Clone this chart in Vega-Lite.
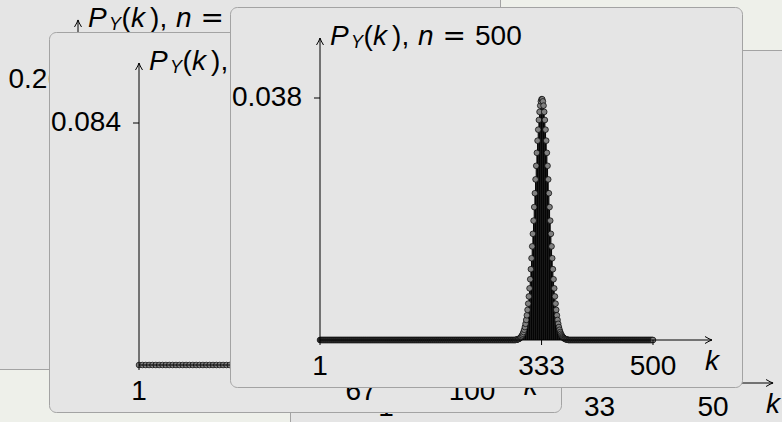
{
"$schema": "https://vega.github.io/schema/vega-lite/v6.json",
"width": 782, "height": 422, "padding": 0, "autosize": {"type": "none"},
"background": "#eef0ea",
"config": {"view": {"stroke": null}, "axis": {"disable": true}, "text": {"font": "Liberation Sans", "fontSize": 28, "color": "#000"}},
"datasets": {
"p10": [{"k":1,"p":0.00034},{"k":2,"p":0.00305},{"k":3,"p":0.01626},{"k":4,"p":0.0569},{"k":5,"p":0.13656},{"k":6,"p":0.22761},{"k":7,"p":0.26012},{"k":8,"p":0.19509},{"k":9,"p":0.08671},{"k":10,"p":0.01734}],
"p50": [{"k":1,"p":0},{"k":2,"p":0},{"k":3,"p":0},{"k":4,"p":0},{"k":5,"p":0},{"k":6,"p":0},{"k":7,"p":0},{"k":8,"p":0},{"k":9,"p":0},{"k":10,"p":0},{"k":11,"p":0},{"k":12,"p":0},{"k":13,"p":0},{"k":14,"p":0},{"k":15,"p":0},{"k":16,"p":0},{"k":17,"p":0},{"k":18,"p":0},{"k":19,"p":0},{"k":20,"p":0},{"k":21,"p":0.0001},{"k":22,"p":0.0003},{"k":23,"p":0.0008},{"k":24,"p":0.0021},{"k":25,"p":0.0046},{"k":26,"p":0.0095},{"k":27,"p":0.0179},{"k":28,"p":0.0307},{"k":29,"p":0.0481},{"k":30,"p":0.069},{"k":31,"p":0.0903},{"k":32,"p":0.1082},{"k":33,"p":0.1184},{"k":34,"p":0.1184},{"k":35,"p":0.1082},{"k":36,"p":0.0903},{"k":37,"p":0.069},{"k":38,"p":0.0481},{"k":39,"p":0.0307},{"k":40,"p":0.0179},{"k":41,"p":0.0095},{"k":42,"p":0.0046},{"k":43,"p":0.0021},{"k":44,"p":0.0008},{"k":45,"p":0.0003},{"k":46,"p":0.0001},{"k":47,"p":0},{"k":48,"p":0},{"k":49,"p":0},{"k":50,"p":0}],
"p100": [{"k":1,"p":0},{"k":2,"p":0},{"k":3,"p":0},{"k":4,"p":0},{"k":5,"p":0},{"k":6,"p":0},{"k":7,"p":0},{"k":8,"p":0},{"k":9,"p":0},{"k":10,"p":0},{"k":11,"p":0},{"k":12,"p":0},{"k":13,"p":0},{"k":14,"p":0},{"k":15,"p":0},{"k":16,"p":0},{"k":17,"p":0},{"k":18,"p":0},{"k":19,"p":0},{"k":20,"p":0},{"k":21,"p":0},{"k":22,"p":0},{"k":23,"p":0},{"k":24,"p":0},{"k":25,"p":0},{"k":26,"p":0},{"k":27,"p":0},{"k":28,"p":0},{"k":29,"p":0},{"k":30,"p":0},{"k":31,"p":0},{"k":32,"p":0},{"k":33,"p":0},{"k":34,"p":0},{"k":35,"p":0},{"k":36,"p":0},{"k":37,"p":0},{"k":38,"p":0},{"k":39,"p":0},{"k":40,"p":0},{"k":41,"p":0},{"k":42,"p":0},{"k":43,"p":0},{"k":44,"p":0},{"k":45,"p":0},{"k":46,"p":0},{"k":47,"p":0},{"k":48,"p":0},{"k":49,"p":0.0001},{"k":50,"p":0.0002},{"k":51,"p":0.0003},{"k":52,"p":0.0007},{"k":53,"p":0.0013},{"k":54,"p":0.0023},{"k":55,"p":0.004},{"k":56,"p":0.0065},{"k":57,"p":0.0103},{"k":58,"p":0.0156},{"k":59,"p":0.0226},{"k":60,"p":0.0311},{"k":61,"p":0.0411},{"k":62,"p":0.0518},{"k":63,"p":0.0625},{"k":64,"p":0.0721},{"k":65,"p":0.0795},{"k":66,"p":0.0838},{"k":67,"p":0.0844},{"k":68,"p":0.0813},{"k":69,"p":0.0749},{"k":70,"p":0.0659},{"k":71,"p":0.0555},{"k":72,"p":0.0446},{"k":73,"p":0.0343},{"k":74,"p":0.0252},{"k":75,"p":0.0177},{"k":76,"p":0.0119},{"k":77,"p":0.0077},{"k":78,"p":0.0047},{"k":79,"p":0.0028},{"k":80,"p":0.0015},{"k":81,"p":0.0008},{"k":82,"p":0.0004},{"k":83,"p":0.0002},{"k":84,"p":0.0001},{"k":85,"p":0},{"k":86,"p":0},{"k":87,"p":0},{"k":88,"p":0},{"k":89,"p":0},{"k":90,"p":0},{"k":91,"p":0},{"k":92,"p":0},{"k":93,"p":0},{"k":94,"p":0},{"k":95,"p":0},{"k":96,"p":0},{"k":97,"p":0},{"k":98,"p":0},{"k":99,"p":0},{"k":100,"p":0}],
"p500": [{"k":1,"p":0},{"k":2,"p":0},{"k":3,"p":0},{"k":4,"p":0},{"k":5,"p":0},{"k":6,"p":0},{"k":7,"p":0},{"k":8,"p":0},{"k":9,"p":0},{"k":10,"p":0},
{"k":11,"p":0},{"k":12,"p":0},{"k":13,"p":0},{"k":14,"p":0},{"k":15,"p":0},{"k":16,"p":0},{"k":17,"p":0},{"k":18,"p":0},{"k":19,"p":0},{"k":20,"p":0},
{"k":21,"p":0},{"k":22,"p":0},{"k":23,"p":0},{"k":24,"p":0},{"k":25,"p":0},{"k":26,"p":0},{"k":27,"p":0},{"k":28,"p":0},{"k":29,"p":0},{"k":30,"p":0},
{"k":31,"p":0},{"k":32,"p":0},{"k":33,"p":0},{"k":34,"p":0},{"k":35,"p":0},{"k":36,"p":0},{"k":37,"p":0},{"k":38,"p":0},{"k":39,"p":0},{"k":40,"p":0},
{"k":41,"p":0},{"k":42,"p":0},{"k":43,"p":0},{"k":44,"p":0},{"k":45,"p":0},{"k":46,"p":0},{"k":47,"p":0},{"k":48,"p":0},{"k":49,"p":0},{"k":50,"p":0},
{"k":51,"p":0},{"k":52,"p":0},{"k":53,"p":0},{"k":54,"p":0},{"k":55,"p":0},{"k":56,"p":0},{"k":57,"p":0},{"k":58,"p":0},{"k":59,"p":0},{"k":60,"p":0},
{"k":61,"p":0},{"k":62,"p":0},{"k":63,"p":0},{"k":64,"p":0},{"k":65,"p":0},{"k":66,"p":0},{"k":67,"p":0},{"k":68,"p":0},{"k":69,"p":0},{"k":70,"p":0},
{"k":71,"p":0},{"k":72,"p":0},{"k":73,"p":0},{"k":74,"p":0},{"k":75,"p":0},{"k":76,"p":0},{"k":77,"p":0},{"k":78,"p":0},{"k":79,"p":0},{"k":80,"p":0},
{"k":81,"p":0},{"k":82,"p":0},{"k":83,"p":0},{"k":84,"p":0},{"k":85,"p":0},{"k":86,"p":0},{"k":87,"p":0},{"k":88,"p":0},{"k":89,"p":0},{"k":90,"p":0},
{"k":91,"p":0},{"k":92,"p":0},{"k":93,"p":0},{"k":94,"p":0},{"k":95,"p":0},{"k":96,"p":0},{"k":97,"p":0},{"k":98,"p":0},{"k":99,"p":0},{"k":100,"p":0},
{"k":101,"p":0},{"k":102,"p":0},{"k":103,"p":0},{"k":104,"p":0},{"k":105,"p":0},{"k":106,"p":0},{"k":107,"p":0},{"k":108,"p":0},{"k":109,"p":0},{"k":110,"p":0},
{"k":111,"p":0},{"k":112,"p":0},{"k":113,"p":0},{"k":114,"p":0},{"k":115,"p":0},{"k":116,"p":0},{"k":117,"p":0},{"k":118,"p":0},{"k":119,"p":0},{"k":120,"p":0},
{"k":121,"p":0},{"k":122,"p":0},{"k":123,"p":0},{"k":124,"p":0},{"k":125,"p":0},{"k":126,"p":0},{"k":127,"p":0},{"k":128,"p":0},{"k":129,"p":0},{"k":130,"p":0},
{"k":131,"p":0},{"k":132,"p":0},{"k":133,"p":0},{"k":134,"p":0},{"k":135,"p":0},{"k":136,"p":0},{"k":137,"p":0},{"k":138,"p":0},{"k":139,"p":0},{"k":140,"p":0},
{"k":141,"p":0},{"k":142,"p":0},{"k":143,"p":0},{"k":144,"p":0},{"k":145,"p":0},{"k":146,"p":0},{"k":147,"p":0},{"k":148,"p":0},{"k":149,"p":0},{"k":150,"p":0},
{"k":151,"p":0},{"k":152,"p":0},{"k":153,"p":0},{"k":154,"p":0},{"k":155,"p":0},{"k":156,"p":0},{"k":157,"p":0},{"k":158,"p":0},{"k":159,"p":0},{"k":160,"p":0},
{"k":161,"p":0},{"k":162,"p":0},{"k":163,"p":0},{"k":164,"p":0},{"k":165,"p":0},{"k":166,"p":0},{"k":167,"p":0},{"k":168,"p":0},{"k":169,"p":0},{"k":170,"p":0},
{"k":171,"p":0},{"k":172,"p":0},{"k":173,"p":0},{"k":174,"p":0},{"k":175,"p":0},{"k":176,"p":0},{"k":177,"p":0},{"k":178,"p":0},{"k":179,"p":0},{"k":180,"p":0},
{"k":181,"p":0},{"k":182,"p":0},{"k":183,"p":0},{"k":184,"p":0},{"k":185,"p":0},{"k":186,"p":0},{"k":187,"p":0},{"k":188,"p":0},{"k":189,"p":0},{"k":190,"p":0},
{"k":191,"p":0},{"k":192,"p":0},{"k":193,"p":0},{"k":194,"p":0},{"k":195,"p":0},{"k":196,"p":0},{"k":197,"p":0},{"k":198,"p":0},{"k":199,"p":0},{"k":200,"p":0},
{"k":201,"p":0},{"k":202,"p":0},{"k":203,"p":0},{"k":204,"p":0},{"k":205,"p":0},{"k":206,"p":0},{"k":207,"p":0},{"k":208,"p":0},{"k":209,"p":0},{"k":210,"p":0},
{"k":211,"p":0},{"k":212,"p":0},{"k":213,"p":0},{"k":214,"p":0},{"k":215,"p":0},{"k":216,"p":0},{"k":217,"p":0},{"k":218,"p":0},{"k":219,"p":0},{"k":220,"p":0},
{"k":221,"p":0},{"k":222,"p":0},{"k":223,"p":0},{"k":224,"p":0},{"k":225,"p":0},{"k":226,"p":0},{"k":227,"p":0},{"k":228,"p":0},{"k":229,"p":0},{"k":230,"p":0},
{"k":231,"p":0},{"k":232,"p":0},{"k":233,"p":0},{"k":234,"p":0},{"k":235,"p":0},{"k":236,"p":0},{"k":237,"p":0},{"k":238,"p":0},{"k":239,"p":0},{"k":240,"p":0},
{"k":241,"p":0},{"k":242,"p":0},{"k":243,"p":0},{"k":244,"p":0},{"k":245,"p":0},{"k":246,"p":0},{"k":247,"p":0},{"k":248,"p":0},{"k":249,"p":0},{"k":250,"p":0},
{"k":251,"p":0},{"k":252,"p":0},{"k":253,"p":0},{"k":254,"p":0},{"k":255,"p":0},{"k":256,"p":0},{"k":257,"p":0},{"k":258,"p":0},{"k":259,"p":0},{"k":260,"p":0},
{"k":261,"p":0},{"k":262,"p":0},{"k":263,"p":0},{"k":264,"p":0},{"k":265,"p":0},{"k":266,"p":0},{"k":267,"p":0},{"k":268,"p":0},{"k":269,"p":0},{"k":270,"p":0},
{"k":271,"p":0},{"k":272,"p":0},{"k":273,"p":0},{"k":274,"p":0},{"k":275,"p":0},{"k":276,"p":0},{"k":277,"p":0},{"k":278,"p":0},{"k":279,"p":0},{"k":280,"p":0},
{"k":281,"p":0},{"k":282,"p":0},{"k":283,"p":0},{"k":284,"p":0},{"k":285,"p":0},{"k":286,"p":0},{"k":287,"p":0},{"k":288,"p":0},{"k":289,"p":0},{"k":290,"p":0},
{"k":291,"p":0},{"k":292,"p":0},{"k":293,"p":0},{"k":294,"p":0},{"k":295,"p":0.00005},{"k":296,"p":0.00007},{"k":297,"p":0.00009},{"k":298,"p":0.00013},{"k":299,"p":0.00018},{"k":300,"p":0.00024},
{"k":301,"p":0.00033},{"k":302,"p":0.00044},{"k":303,"p":0.00058},{"k":304,"p":0.00075},{"k":305,"p":0.00098},{"k":306,"p":0.00126},{"k":307,"p":0.00161},{"k":308,"p":0.00203},{"k":309,"p":0.00254},{"k":310,"p":0.00315},
{"k":311,"p":0.00388},{"k":312,"p":0.00473},{"k":313,"p":0.00571},{"k":314,"p":0.00684},{"k":315,"p":0.00811},{"k":316,"p":0.00954},{"k":317,"p":0.01112},{"k":318,"p":0.01284},{"k":319,"p":0.0147},{"k":320,"p":0.01667},
{"k":321,"p":0.01874},{"k":322,"p":0.02087},{"k":323,"p":0.02305},{"k":324,"p":0.02522},{"k":325,"p":0.02735},{"k":326,"p":0.02939},{"k":327,"p":0.0313},{"k":328,"p":0.03303},{"k":329,"p":0.03455},{"k":330,"p":0.03582},
{"k":331,"p":0.0368},{"k":332,"p":0.03747},{"k":333,"p":0.03781},{"k":334,"p":0.03781},{"k":335,"p":0.03747},{"k":336,"p":0.0368},{"k":337,"p":0.03582},{"k":338,"p":0.03455},{"k":339,"p":0.03303},{"k":340,"p":0.0313},
{"k":341,"p":0.02939},{"k":342,"p":0.02735},{"k":343,"p":0.02522},{"k":344,"p":0.02305},{"k":345,"p":0.02087},{"k":346,"p":0.01874},{"k":347,"p":0.01667},{"k":348,"p":0.0147},{"k":349,"p":0.01284},{"k":350,"p":0.01112},
{"k":351,"p":0.00954},{"k":352,"p":0.00811},{"k":353,"p":0.00684},{"k":354,"p":0.00571},{"k":355,"p":0.00473},{"k":356,"p":0.00388},{"k":357,"p":0.00315},{"k":358,"p":0.00254},{"k":359,"p":0.00203},{"k":360,"p":0.00161},
{"k":361,"p":0.00126},{"k":362,"p":0.00098},{"k":363,"p":0.00075},{"k":364,"p":0.00058},{"k":365,"p":0.00044},{"k":366,"p":0.00033},{"k":367,"p":0.00024},{"k":368,"p":0.00018},{"k":369,"p":0.00013},{"k":370,"p":0.00009},
{"k":371,"p":0.00007},{"k":372,"p":0.00005},{"k":373,"p":0},{"k":374,"p":0},{"k":375,"p":0},{"k":376,"p":0},{"k":377,"p":0},{"k":378,"p":0},{"k":379,"p":0},{"k":380,"p":0},
{"k":381,"p":0},{"k":382,"p":0},{"k":383,"p":0},{"k":384,"p":0},{"k":385,"p":0},{"k":386,"p":0},{"k":387,"p":0},{"k":388,"p":0},{"k":389,"p":0},{"k":390,"p":0},
{"k":391,"p":0},{"k":392,"p":0},{"k":393,"p":0},{"k":394,"p":0},{"k":395,"p":0},{"k":396,"p":0},{"k":397,"p":0},{"k":398,"p":0},{"k":399,"p":0},{"k":400,"p":0},
{"k":401,"p":0},{"k":402,"p":0},{"k":403,"p":0},{"k":404,"p":0},{"k":405,"p":0},{"k":406,"p":0},{"k":407,"p":0},{"k":408,"p":0},{"k":409,"p":0},{"k":410,"p":0},
{"k":411,"p":0},{"k":412,"p":0},{"k":413,"p":0},{"k":414,"p":0},{"k":415,"p":0},{"k":416,"p":0},{"k":417,"p":0},{"k":418,"p":0},{"k":419,"p":0},{"k":420,"p":0},
{"k":421,"p":0},{"k":422,"p":0},{"k":423,"p":0},{"k":424,"p":0},{"k":425,"p":0},{"k":426,"p":0},{"k":427,"p":0},{"k":428,"p":0},{"k":429,"p":0},{"k":430,"p":0},
{"k":431,"p":0},{"k":432,"p":0},{"k":433,"p":0},{"k":434,"p":0},{"k":435,"p":0},{"k":436,"p":0},{"k":437,"p":0},{"k":438,"p":0},{"k":439,"p":0},{"k":440,"p":0},
{"k":441,"p":0},{"k":442,"p":0},{"k":443,"p":0},{"k":444,"p":0},{"k":445,"p":0},{"k":446,"p":0},{"k":447,"p":0},{"k":448,"p":0},{"k":449,"p":0},{"k":450,"p":0},
{"k":451,"p":0},{"k":452,"p":0},{"k":453,"p":0},{"k":454,"p":0},{"k":455,"p":0},{"k":456,"p":0},{"k":457,"p":0},{"k":458,"p":0},{"k":459,"p":0},{"k":460,"p":0},
{"k":461,"p":0},{"k":462,"p":0},{"k":463,"p":0},{"k":464,"p":0},{"k":465,"p":0},{"k":466,"p":0},{"k":467,"p":0},{"k":468,"p":0},{"k":469,"p":0},{"k":470,"p":0},
{"k":471,"p":0},{"k":472,"p":0},{"k":473,"p":0},{"k":474,"p":0},{"k":475,"p":0},{"k":476,"p":0},{"k":477,"p":0},{"k":478,"p":0},{"k":479,"p":0},{"k":480,"p":0},
{"k":481,"p":0},{"k":482,"p":0},{"k":483,"p":0},{"k":484,"p":0},{"k":485,"p":0},{"k":486,"p":0},{"k":487,"p":0},{"k":488,"p":0},{"k":489,"p":0},{"k":490,"p":0},
{"k":491,"p":0},{"k":492,"p":0},{"k":493,"p":0},{"k":494,"p":0},{"k":495,"p":0},{"k":496,"p":0},{"k":497,"p":0},{"k":498,"p":0},{"k":499,"p":0},{"k":500,"p":0}]
},
"layer": [
{"layer": [
  {"data": {"values": [{"card": "n = 10"}]},
   "mark": {"type": "rect", "fill": "#e5e5e5", "stroke": "#a3a3a3", "strokeWidth": 1, "cornerRadius": 7},
   "encoding": {"x": {"datum": 0, "type": "quantitative", "scale": {"domain": [0, 1], "range": [-11.5, 500.5]}}, "x2": {"datum": 1},
                "y": {"datum": 0, "type": "quantitative", "scale": {"domain": [0, 1], "range": [-10.5, 369.5]}}, "y2": {"datum": 1}}},
  {"data": {"values": [{"n": 10}]},
   "layer": [
    {"data": {"name": "p10"}, "mark": {"type": "rule", "color": "#000", "strokeWidth": 1},
     "encoding": {"x": {"field": "k", "type": "quantitative", "scale": {"domain": [1, 10], "range": [78, 411], "nice": false, "zero": false}}, "y": {"field": "p", "type": "quantitative", "scale": {"domain": [0, 0.26], "range": [322, 80], "nice": false, "zero": false}}, "y2": {"datum": 0}}},
    {"data": {"name": "p10"}, "mark": {"type": "point", "filled": true, "fill": "#808080", "stroke": "#000", "strokeWidth": 0.7, "size": 32, "opacity": 1},
     "encoding": {"x": {"field": "k", "type": "quantitative", "scale": {"domain": [1, 10], "range": [78, 411], "nice": false, "zero": false}}, "y": {"field": "p", "type": "quantitative", "scale": {"domain": [0, 0.26], "range": [322, 80], "nice": false, "zero": false}}}},
    {"mark": {"type": "rule", "color": "#000", "strokeWidth": 1}, "encoding": {"x": {"datum": 1, "type": "quantitative", "scale": {"domain": [1, 10], "range": [78, 411], "nice": false, "zero": false}}, "x2": {"datum": 11.6}, "y": {"datum": 0, "type": "quantitative", "scale": {"domain": [0, 0.26], "range": [322, 80], "nice": false, "zero": false}}}},
    {"mark": {"type": "rule", "color": "#000", "strokeWidth": 1}, "encoding": {"x": {"datum": 1, "type": "quantitative", "scale": {"domain": [1, 10], "range": [78, 411], "nice": false, "zero": false}}, "y": {"datum": 0, "type": "quantitative", "scale": {"domain": [0, 0.26], "range": [322, 80], "nice": false, "zero": false}}, "y2": {"datum": 0.3245}}},
    {"mark": {"type": "point", "shape": "M-1,-0.5Q-0.35,-0.1,0,0Q-0.35,0.1,-1,0.5", "size": 196, "filled": false, "stroke": "#000", "strokeWidth": 1, "opacity": 1}, "encoding": {"x": {"datum": 11.6, "type": "quantitative", "scale": {"domain": [1, 10], "range": [78, 411], "nice": false, "zero": false}}, "y": {"datum": 0, "type": "quantitative", "scale": {"domain": [0, 0.26], "range": [322, 80], "nice": false, "zero": false}}}},
    {"mark": {"type": "point", "shape": "M-0.5,1Q-0.1,0.35,0,0Q0.1,0.35,0.5,1", "size": 196, "filled": false, "stroke": "#000", "strokeWidth": 1, "opacity": 1}, "encoding": {"x": {"datum": 1, "type": "quantitative", "scale": {"domain": [1, 10], "range": [78, 411], "nice": false, "zero": false}}, "y": {"datum": 0.3245, "type": "quantitative", "scale": {"domain": [0, 0.26], "range": [322, 80], "nice": false, "zero": false}}}},
    {"data": {"values": [{"k": 1}, {"k": 7}, {"k": 10}]}, "mark": {"type": "tick", "orient": "vertical", "size": 5, "thickness": 1, "yOffset": 2.5, "color": "#000", "opacity": 1}, "encoding": {"x": {"field": "k", "type": "quantitative", "scale": {"domain": [1, 10], "range": [78, 411], "nice": false, "zero": false}}, "y": {"datum": 0, "type": "quantitative", "scale": {"domain": [0, 0.26], "range": [322, 80], "nice": false, "zero": false}}}},
    {"data": {"values": [{"k": 1}, {"k": 7}, {"k": 10}]}, "mark": {"type": "text", "align": "center", "baseline": "bottom", "dy": 41}, "encoding": {"x": {"field": "k", "type": "quantitative", "scale": {"domain": [1, 10], "range": [78, 411], "nice": false, "zero": false}}, "y": {"datum": 0, "type": "quantitative", "scale": {"domain": [0, 0.26], "range": [322, 80], "nice": false, "zero": false}}, "text": {"field": "k", "type": "nominal"}}},
    {"data": {"values": [{"p": 0.26}]}, "mark": {"type": "tick", "orient": "horizontal", "size": 6, "thickness": 1, "xOffset": -3, "color": "#000", "opacity": 1}, "encoding": {"x": {"datum": 1, "type": "quantitative", "scale": {"domain": [1, 10], "range": [78, 411], "nice": false, "zero": false}}, "y": {"field": "p", "type": "quantitative", "scale": {"domain": [0, 0.26], "range": [322, 80], "nice": false, "zero": false}}}},
    {"data": {"values": [{"p": 0.26}]}, "mark": {"type": "text", "align": "right", "baseline": "middle", "dx": -15}, "encoding": {"x": {"datum": 1, "type": "quantitative", "scale": {"domain": [1, 10], "range": [78, 411], "nice": false, "zero": false}}, "y": {"field": "p", "type": "quantitative", "scale": {"domain": [0, 0.26], "range": [322, 80], "nice": false, "zero": false}}, "text": {"field": "p", "type": "quantitative", "format": ".2r"}}},
    {"mark": {"type": "text", "text": "k", "fontStyle": "italic", "align": "center", "baseline": "alphabetic", "dy": 30}, "encoding": {"x": {"datum": 11.6, "type": "quantitative", "scale": {"domain": [1, 10], "range": [78, 411], "nice": false, "zero": false}}, "y": {"datum": 0, "type": "quantitative", "scale": {"domain": [0, 0.26], "range": [322, 80], "nice": false, "zero": false}}}},
    {"encoding": {"x": {"datum": 1, "type": "quantitative", "scale": {"domain": [1, 10], "range": [78, 411], "nice": false, "zero": false}}, "y": {"datum": 0.3245, "type": "quantitative", "scale": {"domain": [0, 0.26], "range": [322, 80], "nice": false, "zero": false}}},
     "layer": [
      {"mark": {"type": "text", "text": "P", "fontStyle": "italic", "align": "left", "baseline": "alphabetic", "dx": 10, "dy": 7}},
      {"mark": {"type": "text", "text": "Y", "fontStyle": "italic", "fontSize": 18, "align": "left", "baseline": "alphabetic", "dx": 31, "dy": 10}},
      {"mark": {"type": "text", "text": "(", "align": "left", "baseline": "alphabetic", "dx": 43.5, "dy": 7}},
      {"mark": {"type": "text", "text": "k", "fontStyle": "italic", "align": "left", "baseline": "alphabetic", "dx": 53, "dy": 7}},
      {"mark": {"type": "text", "text": ")", "align": "left", "baseline": "alphabetic", "dx": 72, "dy": 7}},
      {"mark": {"type": "text", "text": ",", "align": "left", "baseline": "alphabetic", "dx": 81.5, "dy": 7}},
      {"mark": {"type": "text", "text": "n", "fontStyle": "italic", "align": "left", "baseline": "alphabetic", "dx": 98, "dy": 7}},
      {"mark": {"type": "text", "text": "=", "font": "DejaVu Sans", "align": "left", "baseline": "alphabetic", "dx": 122.5, "dy": 7}},
      {"mark": {"type": "text", "align": "left", "baseline": "alphabetic", "dx": 155, "dy": 7}, "encoding": {"text": {"field": "n", "type": "nominal"}}}
     ]}
   ]}
 ],
 "resolve": {"scale": {"x": "independent", "y": "independent"}}},
{"layer": [
  {"data": {"values": [{"card": "n = 50"}]},
   "mark": {"type": "rect", "fill": "#e5e5e5", "stroke": "#a3a3a3", "strokeWidth": 1, "cornerRadius": 7},
   "encoding": {"x": {"datum": 0, "type": "quantitative", "scale": {"domain": [0, 1], "range": [290.5, 802.5]}}, "x2": {"datum": 1},
                "y": {"datum": 0, "type": "quantitative", "scale": {"domain": [0, 1], "range": [50.5, 430.5]}}, "y2": {"datum": 1}}},
  {"data": {"values": [{"n": 50}]},
   "layer": [
    {"data": {"name": "p50"}, "mark": {"type": "rule", "color": "#000", "strokeWidth": 1},
     "encoding": {"x": {"field": "k", "type": "quantitative", "scale": {"domain": [1, 50], "range": [386, 713], "nice": false, "zero": false}}, "y": {"field": "p", "type": "quantitative", "scale": {"domain": [0, 0.12], "range": [383, 141], "nice": false, "zero": false}}, "y2": {"datum": 0}}},
    {"data": {"name": "p50"}, "mark": {"type": "point", "filled": true, "fill": "#808080", "stroke": "#000", "strokeWidth": 0.7, "size": 32, "opacity": 1},
     "encoding": {"x": {"field": "k", "type": "quantitative", "scale": {"domain": [1, 50], "range": [386, 713], "nice": false, "zero": false}}, "y": {"field": "p", "type": "quantitative", "scale": {"domain": [0, 0.12], "range": [383, 141], "nice": false, "zero": false}}}},
    {"mark": {"type": "rule", "color": "#000", "strokeWidth": 1}, "encoding": {"x": {"datum": 1, "type": "quantitative", "scale": {"domain": [1, 50], "range": [386, 713], "nice": false, "zero": false}}, "x2": {"datum": 59}, "y": {"datum": 0, "type": "quantitative", "scale": {"domain": [0, 0.12], "range": [383, 141], "nice": false, "zero": false}}}},
    {"mark": {"type": "rule", "color": "#000", "strokeWidth": 1}, "encoding": {"x": {"datum": 1, "type": "quantitative", "scale": {"domain": [1, 50], "range": [386, 713], "nice": false, "zero": false}}, "y": {"datum": 0, "type": "quantitative", "scale": {"domain": [0, 0.12], "range": [383, 141], "nice": false, "zero": false}}, "y2": {"datum": 0.14975}}},
    {"mark": {"type": "point", "shape": "M-1,-0.5Q-0.35,-0.1,0,0Q-0.35,0.1,-1,0.5", "size": 196, "filled": false, "stroke": "#000", "strokeWidth": 1, "opacity": 1}, "encoding": {"x": {"datum": 59, "type": "quantitative", "scale": {"domain": [1, 50], "range": [386, 713], "nice": false, "zero": false}}, "y": {"datum": 0, "type": "quantitative", "scale": {"domain": [0, 0.12], "range": [383, 141], "nice": false, "zero": false}}}},
    {"mark": {"type": "point", "shape": "M-0.5,1Q-0.1,0.35,0,0Q0.1,0.35,0.5,1", "size": 196, "filled": false, "stroke": "#000", "strokeWidth": 1, "opacity": 1}, "encoding": {"x": {"datum": 1, "type": "quantitative", "scale": {"domain": [1, 50], "range": [386, 713], "nice": false, "zero": false}}, "y": {"datum": 0.14975, "type": "quantitative", "scale": {"domain": [0, 0.12], "range": [383, 141], "nice": false, "zero": false}}}},
    {"data": {"values": [{"k": 1}, {"k": 33}, {"k": 50}]}, "mark": {"type": "tick", "orient": "vertical", "size": 5, "thickness": 1, "yOffset": 2.5, "color": "#000", "opacity": 1}, "encoding": {"x": {"field": "k", "type": "quantitative", "scale": {"domain": [1, 50], "range": [386, 713], "nice": false, "zero": false}}, "y": {"datum": 0, "type": "quantitative", "scale": {"domain": [0, 0.12], "range": [383, 141], "nice": false, "zero": false}}}},
    {"data": {"values": [{"k": 1}, {"k": 33}, {"k": 50}]}, "mark": {"type": "text", "align": "center", "baseline": "bottom", "dy": 39}, "encoding": {"x": {"field": "k", "type": "quantitative", "scale": {"domain": [1, 50], "range": [386, 713], "nice": false, "zero": false}}, "y": {"datum": 0, "type": "quantitative", "scale": {"domain": [0, 0.12], "range": [383, 141], "nice": false, "zero": false}}, "text": {"field": "k", "type": "nominal"}}},
    {"data": {"values": [{"p": 0.12}]}, "mark": {"type": "tick", "orient": "horizontal", "size": 6, "thickness": 1, "xOffset": -3, "color": "#000", "opacity": 1}, "encoding": {"x": {"datum": 1, "type": "quantitative", "scale": {"domain": [1, 50], "range": [386, 713], "nice": false, "zero": false}}, "y": {"field": "p", "type": "quantitative", "scale": {"domain": [0, 0.12], "range": [383, 141], "nice": false, "zero": false}}}},
    {"data": {"values": [{"p": 0.12}]}, "mark": {"type": "text", "align": "right", "baseline": "middle", "dx": -18}, "encoding": {"x": {"datum": 1, "type": "quantitative", "scale": {"domain": [1, 50], "range": [386, 713], "nice": false, "zero": false}}, "y": {"field": "p", "type": "quantitative", "scale": {"domain": [0, 0.12], "range": [383, 141], "nice": false, "zero": false}}, "text": {"field": "p", "type": "quantitative", "format": ".2r"}}},
    {"mark": {"type": "text", "text": "k", "fontStyle": "italic", "align": "center", "baseline": "alphabetic", "dy": 30}, "encoding": {"x": {"datum": 59, "type": "quantitative", "scale": {"domain": [1, 50], "range": [386, 713], "nice": false, "zero": false}}, "y": {"datum": 0, "type": "quantitative", "scale": {"domain": [0, 0.12], "range": [383, 141], "nice": false, "zero": false}}}},
    {"encoding": {"x": {"datum": 1, "type": "quantitative", "scale": {"domain": [1, 50], "range": [386, 713], "nice": false, "zero": false}}, "y": {"datum": 0.14975, "type": "quantitative", "scale": {"domain": [0, 0.12], "range": [383, 141], "nice": false, "zero": false}}},
     "layer": [
      {"mark": {"type": "text", "text": "P", "fontStyle": "italic", "align": "left", "baseline": "alphabetic", "dx": 10, "dy": 7}},
      {"mark": {"type": "text", "text": "Y", "fontStyle": "italic", "fontSize": 18, "align": "left", "baseline": "alphabetic", "dx": 31, "dy": 10}},
      {"mark": {"type": "text", "text": "(", "align": "left", "baseline": "alphabetic", "dx": 43.5, "dy": 7}},
      {"mark": {"type": "text", "text": "k", "fontStyle": "italic", "align": "left", "baseline": "alphabetic", "dx": 53, "dy": 7}},
      {"mark": {"type": "text", "text": ")", "align": "left", "baseline": "alphabetic", "dx": 72, "dy": 7}},
      {"mark": {"type": "text", "text": ",", "align": "left", "baseline": "alphabetic", "dx": 81.5, "dy": 7}},
      {"mark": {"type": "text", "text": "n", "fontStyle": "italic", "align": "left", "baseline": "alphabetic", "dx": 98, "dy": 7}},
      {"mark": {"type": "text", "text": "=", "font": "DejaVu Sans", "align": "left", "baseline": "alphabetic", "dx": 122.5, "dy": 7}},
      {"mark": {"type": "text", "align": "left", "baseline": "alphabetic", "dx": 155, "dy": 7}, "encoding": {"text": {"field": "n", "type": "nominal"}}}
     ]}
   ]}
 ],
 "resolve": {"scale": {"x": "independent", "y": "independent"}}},
{"layer": [
  {"data": {"values": [{"card": "n = 100"}]},
   "mark": {"type": "rect", "fill": "#e5e5e5", "stroke": "#a3a3a3", "strokeWidth": 1, "cornerRadius": 7},
   "encoding": {"x": {"datum": 0, "type": "quantitative", "scale": {"domain": [0, 1], "range": [49.5, 561.5]}}, "x2": {"datum": 1},
                "y": {"datum": 0, "type": "quantitative", "scale": {"domain": [0, 1], "range": [32.5, 412.5]}}, "y2": {"datum": 1}}},
  {"data": {"values": [{"n": 100}]},
   "layer": [
    {"data": {"name": "p100"}, "mark": {"type": "rule", "color": "#000", "strokeWidth": 1},
     "encoding": {"x": {"field": "k", "type": "quantitative", "scale": {"domain": [1, 100], "range": [139, 472], "nice": false, "zero": false}}, "y": {"field": "p", "type": "quantitative", "scale": {"domain": [0, 0.084], "range": [365, 123], "nice": false, "zero": false}}, "y2": {"datum": 0}}},
    {"data": {"name": "p100"}, "mark": {"type": "point", "filled": true, "fill": "#808080", "stroke": "#000", "strokeWidth": 0.7, "size": 32, "opacity": 1},
     "encoding": {"x": {"field": "k", "type": "quantitative", "scale": {"domain": [1, 100], "range": [139, 472], "nice": false, "zero": false}}, "y": {"field": "p", "type": "quantitative", "scale": {"domain": [0, 0.084], "range": [365, 123], "nice": false, "zero": false}}}},
    {"mark": {"type": "rule", "color": "#000", "strokeWidth": 1}, "encoding": {"x": {"datum": 1, "type": "quantitative", "scale": {"domain": [1, 100], "range": [139, 472], "nice": false, "zero": false}}, "x2": {"datum": 117.5}, "y": {"datum": 0, "type": "quantitative", "scale": {"domain": [0, 0.084], "range": [365, 123], "nice": false, "zero": false}}}},
    {"mark": {"type": "rule", "color": "#000", "strokeWidth": 1}, "encoding": {"x": {"datum": 1, "type": "quantitative", "scale": {"domain": [1, 100], "range": [139, 472], "nice": false, "zero": false}}, "y": {"datum": 0, "type": "quantitative", "scale": {"domain": [0, 0.084], "range": [365, 123], "nice": false, "zero": false}}, "y2": {"datum": 0.10482}}},
    {"mark": {"type": "point", "shape": "M-1,-0.5Q-0.35,-0.1,0,0Q-0.35,0.1,-1,0.5", "size": 196, "filled": false, "stroke": "#000", "strokeWidth": 1, "opacity": 1}, "encoding": {"x": {"datum": 117.5, "type": "quantitative", "scale": {"domain": [1, 100], "range": [139, 472], "nice": false, "zero": false}}, "y": {"datum": 0, "type": "quantitative", "scale": {"domain": [0, 0.084], "range": [365, 123], "nice": false, "zero": false}}}},
    {"mark": {"type": "point", "shape": "M-0.5,1Q-0.1,0.35,0,0Q0.1,0.35,0.5,1", "size": 196, "filled": false, "stroke": "#000", "strokeWidth": 1, "opacity": 1}, "encoding": {"x": {"datum": 1, "type": "quantitative", "scale": {"domain": [1, 100], "range": [139, 472], "nice": false, "zero": false}}, "y": {"datum": 0.10482, "type": "quantitative", "scale": {"domain": [0, 0.084], "range": [365, 123], "nice": false, "zero": false}}}},
    {"data": {"values": [{"k": 1}, {"k": 67}, {"k": 100}]}, "mark": {"type": "tick", "orient": "vertical", "size": 5, "thickness": 1, "yOffset": 2.5, "color": "#000", "opacity": 1}, "encoding": {"x": {"field": "k", "type": "quantitative", "scale": {"domain": [1, 100], "range": [139, 472], "nice": false, "zero": false}}, "y": {"datum": 0, "type": "quantitative", "scale": {"domain": [0, 0.084], "range": [365, 123], "nice": false, "zero": false}}}},
    {"data": {"values": [{"k": 1}, {"k": 67}, {"k": 100}]}, "mark": {"type": "text", "align": "center", "baseline": "bottom", "dy": 41}, "encoding": {"x": {"field": "k", "type": "quantitative", "scale": {"domain": [1, 100], "range": [139, 472], "nice": false, "zero": false}}, "y": {"datum": 0, "type": "quantitative", "scale": {"domain": [0, 0.084], "range": [365, 123], "nice": false, "zero": false}}, "text": {"field": "k", "type": "nominal"}}},
    {"data": {"values": [{"p": 0.084}]}, "mark": {"type": "tick", "orient": "horizontal", "size": 6, "thickness": 1, "xOffset": -3, "color": "#000", "opacity": 1}, "encoding": {"x": {"datum": 1, "type": "quantitative", "scale": {"domain": [1, 100], "range": [139, 472], "nice": false, "zero": false}}, "y": {"field": "p", "type": "quantitative", "scale": {"domain": [0, 0.084], "range": [365, 123], "nice": false, "zero": false}}}},
    {"data": {"values": [{"p": 0.084}]}, "mark": {"type": "text", "align": "right", "baseline": "middle", "dx": -18}, "encoding": {"x": {"datum": 1, "type": "quantitative", "scale": {"domain": [1, 100], "range": [139, 472], "nice": false, "zero": false}}, "y": {"field": "p", "type": "quantitative", "scale": {"domain": [0, 0.084], "range": [365, 123], "nice": false, "zero": false}}, "text": {"field": "p", "type": "quantitative", "format": ".2r"}}},
    {"mark": {"type": "text", "text": "k", "fontStyle": "italic", "align": "center", "baseline": "alphabetic", "dy": 30}, "encoding": {"x": {"datum": 117.5, "type": "quantitative", "scale": {"domain": [1, 100], "range": [139, 472], "nice": false, "zero": false}}, "y": {"datum": 0, "type": "quantitative", "scale": {"domain": [0, 0.084], "range": [365, 123], "nice": false, "zero": false}}}},
    {"encoding": {"x": {"datum": 1, "type": "quantitative", "scale": {"domain": [1, 100], "range": [139, 472], "nice": false, "zero": false}}, "y": {"datum": 0.10482, "type": "quantitative", "scale": {"domain": [0, 0.084], "range": [365, 123], "nice": false, "zero": false}}},
     "layer": [
      {"mark": {"type": "text", "text": "P", "fontStyle": "italic", "align": "left", "baseline": "alphabetic", "dx": 10, "dy": 7}},
      {"mark": {"type": "text", "text": "Y", "fontStyle": "italic", "fontSize": 18, "align": "left", "baseline": "alphabetic", "dx": 31, "dy": 10}},
      {"mark": {"type": "text", "text": "(", "align": "left", "baseline": "alphabetic", "dx": 43.5, "dy": 7}},
      {"mark": {"type": "text", "text": "k", "fontStyle": "italic", "align": "left", "baseline": "alphabetic", "dx": 53, "dy": 7}},
      {"mark": {"type": "text", "text": ")", "align": "left", "baseline": "alphabetic", "dx": 72, "dy": 7}},
      {"mark": {"type": "text", "text": ",", "align": "left", "baseline": "alphabetic", "dx": 81.5, "dy": 7}},
      {"mark": {"type": "text", "text": "n", "fontStyle": "italic", "align": "left", "baseline": "alphabetic", "dx": 98, "dy": 7}},
      {"mark": {"type": "text", "text": "=", "font": "DejaVu Sans", "align": "left", "baseline": "alphabetic", "dx": 122.5, "dy": 7}},
      {"mark": {"type": "text", "align": "left", "baseline": "alphabetic", "dx": 155, "dy": 7}, "encoding": {"text": {"field": "n", "type": "nominal"}}}
     ]}
   ]}
 ],
 "resolve": {"scale": {"x": "independent", "y": "independent"}}},
{"layer": [
  {"data": {"values": [{"card": "n = 500"}]},
   "mark": {"type": "rect", "fill": "#e5e5e5", "stroke": "#a3a3a3", "strokeWidth": 1, "cornerRadius": 7},
   "encoding": {"x": {"datum": 0, "type": "quantitative", "scale": {"domain": [0, 1], "range": [230.5, 742.5]}}, "x2": {"datum": 1},
                "y": {"datum": 0, "type": "quantitative", "scale": {"domain": [0, 1], "range": [7.5, 387.5]}}, "y2": {"datum": 1}}},
  {"data": {"values": [{"n": 500}]},
   "layer": [
    {"data": {"name": "p500"}, "mark": {"type": "rule", "color": "#000", "strokeWidth": 1},
     "encoding": {"x": {"field": "k", "type": "quantitative", "scale": {"domain": [1, 500], "range": [320, 653], "nice": false, "zero": false}}, "y": {"field": "p", "type": "quantitative", "scale": {"domain": [0, 0.038], "range": [340, 98], "nice": false, "zero": false}}, "y2": {"datum": 0}}},
    {"data": {"name": "p500"}, "mark": {"type": "point", "filled": true, "fill": "#808080", "stroke": "#000", "strokeWidth": 0.7, "size": 32, "opacity": 1},
     "encoding": {"x": {"field": "k", "type": "quantitative", "scale": {"domain": [1, 500], "range": [320, 653], "nice": false, "zero": false}}, "y": {"field": "p", "type": "quantitative", "scale": {"domain": [0, 0.038], "range": [340, 98], "nice": false, "zero": false}}}},
    {"mark": {"type": "rule", "color": "#000", "strokeWidth": 1}, "encoding": {"x": {"datum": 1, "type": "quantitative", "scale": {"domain": [1, 500], "range": [320, 653], "nice": false, "zero": false}}, "x2": {"datum": 588.4}, "y": {"datum": 0, "type": "quantitative", "scale": {"domain": [0, 0.038], "range": [340, 98], "nice": false, "zero": false}}}},
    {"mark": {"type": "rule", "color": "#000", "strokeWidth": 1}, "encoding": {"x": {"datum": 1, "type": "quantitative", "scale": {"domain": [1, 500], "range": [320, 653], "nice": false, "zero": false}}, "y": {"datum": 0, "type": "quantitative", "scale": {"domain": [0, 0.038], "range": [340, 98], "nice": false, "zero": false}}, "y2": {"datum": 0.04742}}},
    {"mark": {"type": "point", "shape": "M-1,-0.5Q-0.35,-0.1,0,0Q-0.35,0.1,-1,0.5", "size": 196, "filled": false, "stroke": "#000", "strokeWidth": 1, "opacity": 1}, "encoding": {"x": {"datum": 588.4, "type": "quantitative", "scale": {"domain": [1, 500], "range": [320, 653], "nice": false, "zero": false}}, "y": {"datum": 0, "type": "quantitative", "scale": {"domain": [0, 0.038], "range": [340, 98], "nice": false, "zero": false}}}},
    {"mark": {"type": "point", "shape": "M-0.5,1Q-0.1,0.35,0,0Q0.1,0.35,0.5,1", "size": 196, "filled": false, "stroke": "#000", "strokeWidth": 1, "opacity": 1}, "encoding": {"x": {"datum": 1, "type": "quantitative", "scale": {"domain": [1, 500], "range": [320, 653], "nice": false, "zero": false}}, "y": {"datum": 0.04742, "type": "quantitative", "scale": {"domain": [0, 0.038], "range": [340, 98], "nice": false, "zero": false}}}},
    {"data": {"values": [{"k": 1}, {"k": 333}, {"k": 500}]}, "mark": {"type": "tick", "orient": "vertical", "size": 5, "thickness": 1, "yOffset": 2.5, "color": "#000", "opacity": 1}, "encoding": {"x": {"field": "k", "type": "quantitative", "scale": {"domain": [1, 500], "range": [320, 653], "nice": false, "zero": false}}, "y": {"datum": 0, "type": "quantitative", "scale": {"domain": [0, 0.038], "range": [340, 98], "nice": false, "zero": false}}}},
    {"data": {"values": [{"k": 1}, {"k": 333}, {"k": 500}]}, "mark": {"type": "text", "align": "center", "baseline": "bottom", "dy": 41}, "encoding": {"x": {"field": "k", "type": "quantitative", "scale": {"domain": [1, 500], "range": [320, 653], "nice": false, "zero": false}}, "y": {"datum": 0, "type": "quantitative", "scale": {"domain": [0, 0.038], "range": [340, 98], "nice": false, "zero": false}}, "text": {"field": "k", "type": "nominal"}}},
    {"data": {"values": [{"p": 0.038}]}, "mark": {"type": "tick", "orient": "horizontal", "size": 6, "thickness": 1, "xOffset": -3, "color": "#000", "opacity": 1}, "encoding": {"x": {"datum": 1, "type": "quantitative", "scale": {"domain": [1, 500], "range": [320, 653], "nice": false, "zero": false}}, "y": {"field": "p", "type": "quantitative", "scale": {"domain": [0, 0.038], "range": [340, 98], "nice": false, "zero": false}}}},
    {"data": {"values": [{"p": 0.038}]}, "mark": {"type": "text", "align": "right", "baseline": "middle", "dx": -18}, "encoding": {"x": {"datum": 1, "type": "quantitative", "scale": {"domain": [1, 500], "range": [320, 653], "nice": false, "zero": false}}, "y": {"field": "p", "type": "quantitative", "scale": {"domain": [0, 0.038], "range": [340, 98], "nice": false, "zero": false}}, "text": {"field": "p", "type": "quantitative", "format": ".2r"}}},
    {"mark": {"type": "text", "text": "k", "fontStyle": "italic", "align": "center", "baseline": "alphabetic", "dy": 30}, "encoding": {"x": {"datum": 588.4, "type": "quantitative", "scale": {"domain": [1, 500], "range": [320, 653], "nice": false, "zero": false}}, "y": {"datum": 0, "type": "quantitative", "scale": {"domain": [0, 0.038], "range": [340, 98], "nice": false, "zero": false}}}},
    {"encoding": {"x": {"datum": 1, "type": "quantitative", "scale": {"domain": [1, 500], "range": [320, 653], "nice": false, "zero": false}}, "y": {"datum": 0.04742, "type": "quantitative", "scale": {"domain": [0, 0.038], "range": [340, 98], "nice": false, "zero": false}}},
     "layer": [
      {"mark": {"type": "text", "text": "P", "fontStyle": "italic", "align": "left", "baseline": "alphabetic", "dx": 10, "dy": 7}},
      {"mark": {"type": "text", "text": "Y", "fontStyle": "italic", "fontSize": 18, "align": "left", "baseline": "alphabetic", "dx": 31, "dy": 10}},
      {"mark": {"type": "text", "text": "(", "align": "left", "baseline": "alphabetic", "dx": 43.5, "dy": 7}},
      {"mark": {"type": "text", "text": "k", "fontStyle": "italic", "align": "left", "baseline": "alphabetic", "dx": 53, "dy": 7}},
      {"mark": {"type": "text", "text": ")", "align": "left", "baseline": "alphabetic", "dx": 72, "dy": 7}},
      {"mark": {"type": "text", "text": ",", "align": "left", "baseline": "alphabetic", "dx": 81.5, "dy": 7}},
      {"mark": {"type": "text", "text": "n", "fontStyle": "italic", "align": "left", "baseline": "alphabetic", "dx": 98, "dy": 7}},
      {"mark": {"type": "text", "text": "=", "font": "DejaVu Sans", "align": "left", "baseline": "alphabetic", "dx": 122.5, "dy": 7}},
      {"mark": {"type": "text", "align": "left", "baseline": "alphabetic", "dx": 155, "dy": 7}, "encoding": {"text": {"field": "n", "type": "nominal"}}}
     ]}
   ]}
 ],
 "resolve": {"scale": {"x": "independent", "y": "independent"}}}
],
"resolve": {"scale": {"x": "independent", "y": "independent"}}
}
